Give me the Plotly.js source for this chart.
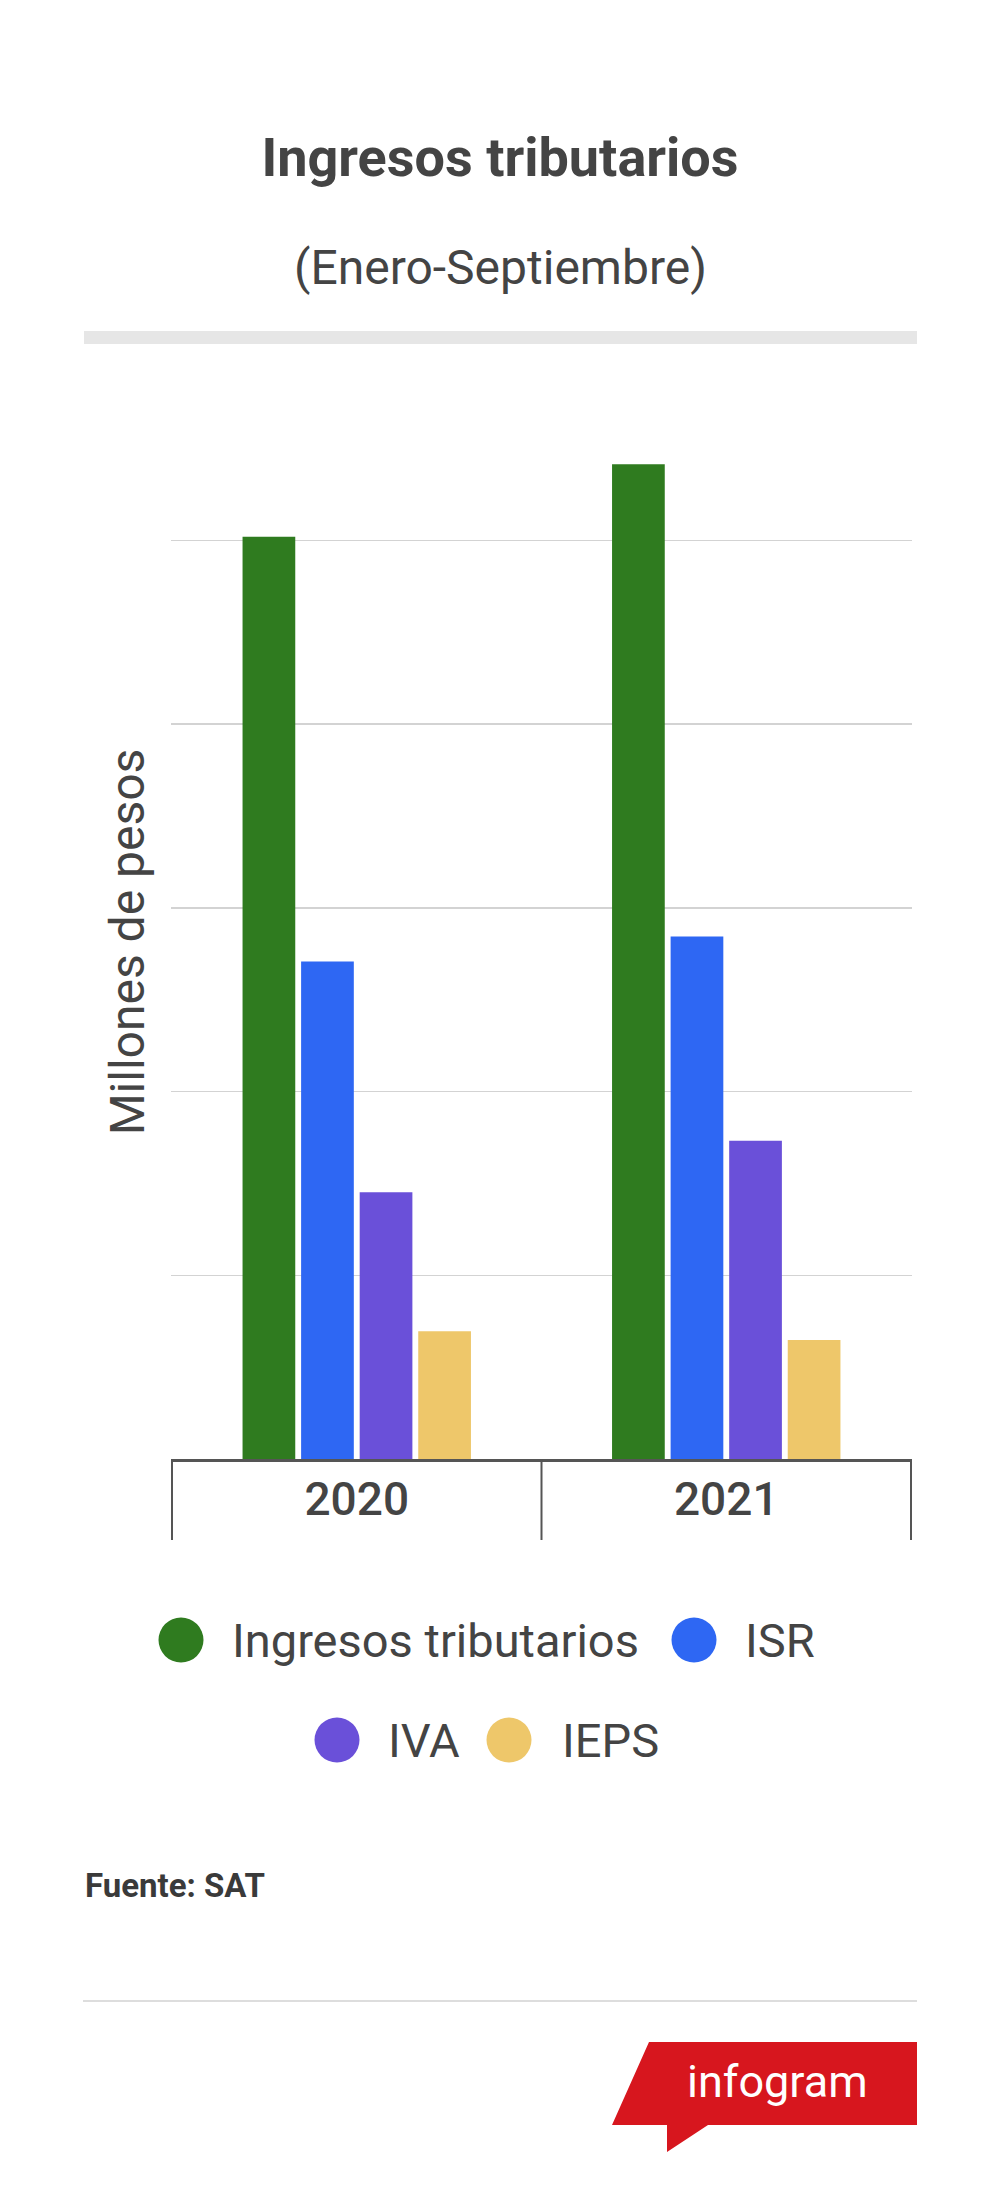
<!DOCTYPE html>
<html>
<head>
<meta charset="utf-8">
<script src="https://cdn.plot.ly/plotly-3.0.1.min.js"></script>
<style>
  html, body { margin:0; padding:0; background:#ffffff; }
  #chart { width:1000px; height:2197px; }
</style>
</head>
<body>
<div id="chart"></div>
<script>
// ---- data ----
const categories = ['2020', '2021'];
const seriesNames = ['Ingresos tributarios', 'ISR', 'IVA', 'IEPS'];
const ingresosTributarios = [2510000, 2707000];
const isr = [1354000, 1422000];
const iva = [726000, 866000];
const ieps = [348000, 324000];
const seriesColors = ['#2f7b1f', '#2e67f3', '#6a50d9', '#eec76a'];
const yTickStep = 500000;
const yMax = 2814000;

// ---- layout helpers (pixel -> paper) ----
const W = 1000, H = 2197, L = 171, R = 912, T = 425, B = 1459;
const px = x => (x - L) / (R - L);
const py = y => (B - y) / (B - T);
const FONT = 'Roboto, "Open Sans", sans-serif';
const TXT = '#444444';

const seriesValues = [ingresosTributarios, isr, iva, ieps];
const traces = seriesNames.map((name, i) => ({
  type: 'bar',
  name: name,
  x: categories,
  y: seriesValues[i],
  marker: { color: seriesColors[i], line: { width: 0 } },
  showlegend: false,
  hoverinfo: 'x+y+name'
}));

// custom legend placement (layout only)
const legendSlots = [
  { cx: 181, tx: 230, cy: 1640 },
  { cx: 694, tx: 743, cy: 1640 },
  { cx: 337, tx: 386, cy: 1740 },
  { cx: 509, tx: 560, cy: 1740 }
];
const dotR = 22.5;

const shapes = [];
const annotations = [];

// grey bar under subtitle
shapes.push({ type: 'rect', xref: 'paper', yref: 'paper',
  x0: px(84), x1: px(917), y0: py(344), y1: py(331),
  fillcolor: '#e6e6e6', line: { width: 0 }, layer: 'below' });

// category boundary ticks
[-0.5, 0.5, 1.5].forEach(v => {
  shapes.push({ type: 'line', xref: 'x', yref: 'paper',
    x0: v, x1: v, y0: py(B), y1: py(1540),
    line: { color: '#555555', width: 2 } });
});

// legend
seriesNames.forEach((name, i) => {
  const s = legendSlots[i];
  shapes.push({ type: 'circle', xref: 'paper', yref: 'paper',
    x0: px(s.cx - dotR), x1: px(s.cx + dotR),
    y0: py(s.cy + dotR), y1: py(s.cy - dotR),
    fillcolor: seriesColors[i], line: { width: 0 } });
  annotations.push({ xref: 'paper', yref: 'paper', x: px(s.tx), y: py(s.cy),
    xanchor: 'left', yanchor: 'middle', showarrow: false, text: name,
    font: { family: FONT, size: 47, color: TXT } });
});

// subtitle
annotations.push({ xref: 'paper', yref: 'paper', x: px(500), y: py(267),
  xanchor: 'center', yanchor: 'middle', showarrow: false,
  text: '(Enero-Septiembre)', font: { family: FONT, size: 48, color: TXT } });

// source
annotations.push({ xref: 'paper', yref: 'paper', x: px(83), y: py(1885),
  xanchor: 'left', yanchor: 'middle', showarrow: false,
  text: '<b>Fuente: SAT</b>', font: { family: FONT, size: 33, color: '#3a3a3a' } });

// bottom divider
shapes.push({ type: 'line', xref: 'paper', yref: 'paper',
  x0: px(83), x1: px(917), y0: py(2001), y1: py(2001),
  line: { color: '#dddddd', width: 2 } });

// infogram badge
const badge = [[649, 2042], [917, 2042], [917, 2125], [708, 2125], [667, 2152], [667, 2125], [612, 2125]];
shapes.push({ type: 'path', xref: 'paper', yref: 'paper',
  path: 'M ' + badge.map(p => px(p[0]) + ',' + py(p[1])).join(' L ') + ' Z',
  fillcolor: '#d7161e', line: { width: 0 } });
annotations.push({ xref: 'paper', yref: 'paper', x: px(777), y: py(2081),
  xanchor: 'center', yanchor: 'middle', showarrow: false,
  text: 'infogram', font: { family: FONT, size: 45, color: '#ffffff' } });

const layout = {
  width: W, height: H,
  margin: { l: L, r: W - R, t: T, b: H - B, pad: 0 },
  paper_bgcolor: '#ffffff', plot_bgcolor: '#ffffff',
  font: { family: FONT, color: TXT },
  title: { text: '<b>Ingresos tributarios</b>', font: { family: FONT, size: 54, color: TXT },
    x: 0.5, xref: 'container', xanchor: 'center',
    y: 1 - 157 / H, yref: 'container', yanchor: 'middle' },
  barmode: 'group', bargap: 0.366, bargroupgap: 0.1,
  showlegend: false,
  xaxis: { type: 'category', categoryorder: 'array', categoryarray: categories,
    showline: true, linecolor: '#555555', linewidth: 3,
    ticks: '', showgrid: false, zeroline: false,
    tickfont: { family: FONT, size: 46, color: TXT, weight: 500 }, ticklabelstandoff: -2 },
  yaxis: { range: [0, yMax], tick0: 0, dtick: yTickStep,
    showticklabels: false, ticks: '', showline: false, zeroline: false,
    showgrid: true, gridcolor: '#d3d3d3', gridwidth: 1.5,
    title: { text: 'Millones de pesos', font: { family: FONT, size: 48, color: TXT }, standoff: 10 } },
  shapes: shapes,
  annotations: annotations
};

Plotly.newPlot('chart', traces, layout, { displayModeBar: false, staticPlot: true });
</script>
</body>
</html>
